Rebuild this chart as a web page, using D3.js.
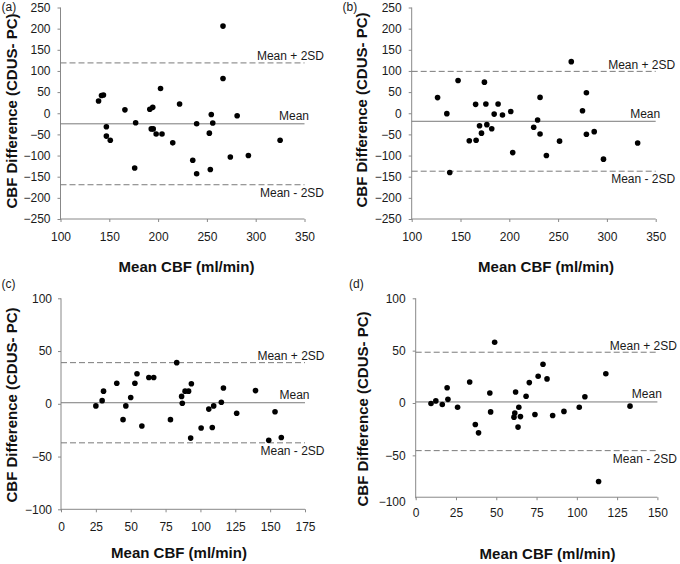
<!DOCTYPE html>
<html><head><meta charset="utf-8">
<script src="https://cdn.jsdelivr.net/npm/d3@7"></script>
<style>
body{margin:0;background:#fff}
text{font-family:"Liberation Sans",Arial,sans-serif}
</style>
</head><body>
<svg id="chart" width="680" height="564"></svg>
<script>
// ---- data ----
const aMean=[139,142,144,147,147,151,166,177,176,191.5,194.5,193,195,198,204,202.5,215,222,235.5,239.5,239.5,252.5,254.5,256,253.5,266.5,266.5,274,281,292.5,325];
const aDiff=[29,42,43,-32,-54,-64,8,-22.5,-129.5,9.5,14,-37,-37,-49,-49,58.5,-70,22,-111,-25,-143,-47,-3,-23,-133,206,82,-103.5,-6,-100,-64];
const aLimits=[-25,119,-169]; // mean, mean+2SD, mean-2SD

const bMean=[126.5,136,139,147.5,159,165.5,166,169.5,171.5,174.5,176,177,182,184.5,188.5,193,201.5,203.5,225,229,231.5,231.5,238,251.5,263.5,275,279,279,287,296.5,331.5];
const bDiff=[37,-1,-140,77.5,-65,21,-64,-29.5,-47,73.5,22,-27,-36.5,-2,22,-4,4,-93,-33,-16,37.5,-49,-100,-66,122,6,48.5,-49.5,-43.5,-108.5,-70.5];
const bLimits=[-19,99,-137];

const cMean=[25,29.5,30.5,40,44.5,46.5,50,53,54.5,58,63,66.5,78.5,83,86.5,87,89,91.5,93,93.5,100.5,106,108.5,109.5,115,116.5,126,139.5,149,153.5,158];
const cDiff=[-2,3,12,19.5,-15,-2,6,19.5,28.5,-21,25,25,-15,39,7,0.5,12,12,-32.5,19,-23,-5,-22.5,-2,1.5,15,-9,12.5,-34.5,-7.5,-32];
const cLimits=[1,39,-37];

const dMean=[9.5,12.5,16.5,19.5,20,26,33.5,37,39,46,46.5,49,61,61.5,62,63.5,64,65,68.5,70.5,74,76,79,81.5,85,92,101.5,105,113.5,118,133];
const dDiff=[-0.5,2,-1.5,14.5,3.5,-4,20,-20.5,-28.5,9.5,-8.5,58,-13.5,-9.5,10.5,-23,-4,-13,6.5,19.5,-11,25.5,37,23,-12,-8,-4,6,-75,28,-3];
const dLimits=[1,48.5,-45.5];

const abXTicks=[100,150,200,250,300,350];
const abYTicks=[250,200,150,100,50,0,-50,-100,-150,-200,-250];
const cXTicks=[0,25,50,75,100,125,150,175];
const dXTicks=[0,25,50,75,100,125,150];
const cdYTicks=[100,50,0,-50,-100];

const panelLabels=["(a)","(b)","(c)","(d)"];
const limitLabels=["Mean","Mean + 2SD","Mean - 2SD"];
const xTitle="Mean CBF (ml/min)";
const yTitle="CBF Difference (CDUS- PC)";

// ---- drawing ----
const svg=d3.select("#chart");
const AX="#888888", LN="#7a7a7a";

function panel(o){
  const x=d3.scaleLinear().domain([o.xTicks[0],o.xTicks[o.xTicks.length-1]]).range([o.left,o.right]);
  const yMin=d3.min(o.yTicks), yMax=d3.max(o.yTicks);
  const y=d3.scaleLinear().domain([yMin,yMax]).range([o.bottom,o.top]);
  const axisY=y(o.xCross);
  const g=svg.append("g");

  // axes lines
  g.append("line").attr("x1",o.left).attr("x2",o.left).attr("y1",y(yMax)).attr("y2",axisY+1)
    .attr("stroke",AX).attr("stroke-width",1);
  g.append("line").attr("x1",o.left).attr("x2",o.right).attr("y1",axisY).attr("y2",axisY)
    .attr("stroke",AX).attr("stroke-width",1);

  // y axis
  const ya=g.append("g").attr("transform",`translate(${o.left},0)`)
    .call(d3.axisLeft(y).tickValues(o.yTicks).tickSize(3).tickPadding(o.yPad).tickSizeOuter(0));
  ya.select(".domain").remove();
  ya.selectAll(".tick line").attr("stroke",AX);
  ya.selectAll(".tick text").attr("fill","#1a1a1a").style("font-size","12px");
  if(o.xCross!==yMin){
    ya.selectAll(".tick").filter(d=>d===yMin).each(function(){
      d3.select(this).select("line").remove();
      d3.select(this).attr("transform",`translate(0,${axisY+5})`);
    });
  }

  // x axis
  const xa=g.append("g").attr("transform",`translate(0,${axisY})`)
    .call(d3.axisBottom(x).tickValues(o.xTicks).tickSize(3).tickPadding(o.xPad).tickSizeOuter(0));
  xa.select(".domain").remove();
  xa.selectAll(".tick line").attr("stroke",AX);
  xa.selectAll(".tick text").attr("fill","#1a1a1a").style("font-size","12px");

  // limit lines
  const [m,up,lo]=o.limits;
  g.append("line").attr("x1",o.left).attr("x2",o.right).attr("y1",y(m)).attr("y2",y(m))
    .attr("stroke",LN).attr("stroke-width",1);
  [up,lo].forEach(v=>g.append("line").attr("x1",o.left).attr("x2",o.right).attr("y1",y(v)).attr("y2",y(v))
    .attr("stroke",LN).attr("stroke-width",1).attr("stroke-dasharray","6,3"));

  const lt=g.append("g").style("font-size","12px").attr("fill","#1a1a1a").attr("text-anchor","end");
  lt.append("text").attr("x",o.right+4.5).attr("y",y(m)-3.5).text(limitLabels[0]);
  lt.append("text").attr("x",o.right+19.5).attr("y",y(up)-2.5).text(limitLabels[1]);
  lt.append("text").attr("x",o.right+19.5).attr("y",y(lo)+12).text(limitLabels[2]);

  // points
  g.append("g").selectAll("circle").data(o.xs.map((v,i)=>[v,o.ys[i]])).join("circle")
    .attr("cx",d=>x(d[0])).attr("cy",d=>y(d[1])).attr("r",2.8).attr("fill","#000");

  // titles
  g.append("text").attr("x",o.xtX).attr("y",o.xtY).attr("text-anchor","middle")
    .style("font-size","15px").style("font-weight","bold").attr("fill","#111").text(xTitle);
  g.append("text").attr("transform",`translate(${o.ytX},${o.ytY}) rotate(-90)`).attr("text-anchor","middle")
    .style("font-size","15px").style("font-weight","bold").attr("fill","#111").text(yTitle);
  g.append("text").attr("x",o.lx).attr("y",o.ly).style("font-size","12px").attr("fill","#1a1a1a").text(o.label);
}

panel({xs:aMean,ys:aDiff,limits:aLimits,xTicks:abXTicks,yTicks:abYTicks,xCross:-250,
  left:60.5,right:304.5,top:7.5,bottom:219,yPad:7,xPad:10,
  xtX:186.5,xtY:272,ytX:16.5,ytY:111,lx:1.5,ly:11,label:panelLabels[0]});
panel({xs:bMean,ys:bDiff,limits:bLimits,xTicks:abXTicks,yTicks:abYTicks,xCross:-250,
  left:411.7,right:655.7,top:7.5,bottom:219,yPad:7,xPad:10,
  xtX:546,xtY:272,ytX:366.5,ytY:110,lx:342.5,ly:11,label:panelLabels[1]});
panel({xs:cMean,ys:cDiff,limits:cLimits,xTicks:cXTicks,yTicks:cdYTicks,xCross:-100,
  left:61,right:305,top:298.3,bottom:509.3,yPad:6,xPad:10,
  xtX:179,xtY:558,ytX:16.5,ytY:405,lx:1.5,ly:287.5,label:panelLabels[2]});
panel({xs:dMean,ys:dDiff,limits:dLimits,xTicks:dXTicks,yTicks:cdYTicks,xCross:-90,
  left:415.7,right:657.4,top:298.3,bottom:507.7,yPad:7,xPad:8,
  xtX:547.5,xtY:559,ytX:367.5,ytY:409,lx:349,ly:288,label:panelLabels[3]});
</script>
</body></html>
